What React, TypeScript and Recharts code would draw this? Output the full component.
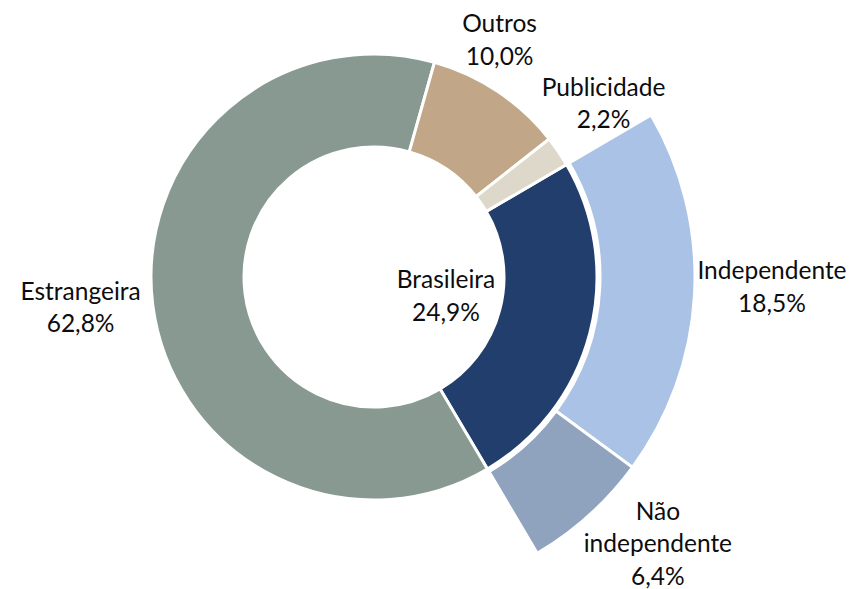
import React from 'react';
import { PieChart, Pie, Cell } from 'recharts';

// Inner ring (market split)
const innerNames = ['Brasileira', 'Estrangeira', 'Outros', 'Publicidade'];
const innerValues = [24.9, 62.8, 10.0, 2.2];
// Outer ring (breakdown of "Brasileira")
const outerNames = ['Independente', 'Não independente'];
const outerValues = [18.5, 6.4];

const innerColors = ['#223E6C', '#879991', '#C1A687', '#DDD8CA'];
const outerColors = ['#A9C2E6', '#8FA3BF'];

const innerData = innerNames.map((name, i) => ({ name, value: innerValues[i] }));
const outerData = outerNames.map((name, i) => ({ name, value: outerValues[i] }));

const innerTotal = innerValues.reduce((a, b) => a + b, 0);
const brasileiraShare = innerValues[0] / innerTotal;

// first slice starts ~59.7° clockwise from 12 o'clock
const START = 90 - 59.7;

// label placement (polar, around pie centre): angle in degrees (counter-clockwise from 3 o'clock), distance in px
const labelPlace: Record<string, { a: number; d: number }> = {
  Brasileira: { a: -20.9, d: 77 },
  Estrangeira: { a: 187.6, d: 296 },
  Outros: { a: 61.2, d: 260.7 },
  Publicidade: { a: 35.7, d: 282.7 },
  Independente: { a: -2.66, d: 398.4 },
  'Não independente': { a: -44.1, d: 395.3 },
};

const RAD = Math.PI / 180;
const LINE = 32.5;

const renderLabel = (props: any) => {
  const { cx, cy, midAngle, name, value } = props;
  const p = labelPlace[name] ?? { a: midAngle, d: 260 };
  const x = cx + p.d * Math.cos(-p.a * RAD);
  const y = cy + p.d * Math.sin(-p.a * RAD);
  const lines = [...String(name).split(' '), Number(value).toFixed(1).replace('.', ',') + '%'];
  const firstBaseline = y - ((lines.length - 1) * LINE) / 2;
  return (
    <text
      key={name}
      x={x}
      y={firstBaseline}
      textAnchor="middle"
      fontFamily="Lato, 'Open Sans', sans-serif"
      fontSize={24.5}
      fill="#0d0d0d"
    >
      {lines.map((l, i) => (
        <tspan key={i} x={x} y={firstBaseline + i * LINE}>
          {l}
        </tspan>
      ))}
    </text>
  );
};

export default function App() {
  return (
    <div style={{ position: 'absolute', left: 0, top: 0, width: 850, height: 589, background: '#fff' }}>
      <PieChart width={850} height={589} margin={{ top: 0, right: 0, bottom: 0, left: 0 }}>
        <Pie
          data={innerData}
          dataKey="value"
          nameKey="name"
          cx={374}
          cy={277}
          innerRadius={130}
          outerRadius={223}
          startAngle={START}
          endAngle={START - 360}
          stroke="#ffffff"
          strokeWidth={3}
          label={renderLabel}
          labelLine={false}
          isAnimationActive={false}
        >
          {innerData.map((d, i) => (
            <Cell key={d.name} fill={innerColors[i]} />
          ))}
        </Pie>
        <Pie
          data={outerData}
          dataKey="value"
          nameKey="name"
          cx={374}
          cy={277}
          innerRadius={226}
          outerRadius={321}
          startAngle={START}
          endAngle={START - 360 * brasileiraShare}
          stroke="#ffffff"
          strokeWidth={3}
          label={renderLabel}
          labelLine={false}
          isAnimationActive={false}
        >
          {outerData.map((d, i) => (
            <Cell key={d.name} fill={outerColors[i]} />
          ))}
        </Pie>
      </PieChart>
    </div>
  );
}
